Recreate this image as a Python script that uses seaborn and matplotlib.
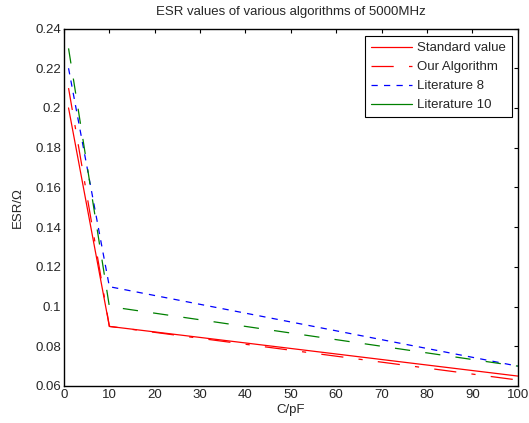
import matplotlib
matplotlib.use("Agg")
import matplotlib.pyplot as plt
from matplotlib.lines import Line2D
import seaborn as sns
import pandas as pd

# Capacitance points (pF) and ESR (ohm) of each method at 5000 MHz
capacitance = [1, 10, 100]
standard_value = [0.20, 0.09, 0.065]
our_algorithm = [0.21, 0.09, 0.063]
literature_8 = [0.22, 0.11, 0.070]
literature_10 = [0.23, 0.10, 0.070]

series_names = ["Standard value", "Our Algorithm", "Literature 8", "Literature 10"]
x_ticks = list(range(0, 101, 10))
y_ticks = [0.06, 0.08, 0.10, 0.12, 0.14, 0.16, 0.18, 0.20, 0.22, 0.24]

sns.set_theme(style="white")
plt.rcParams["font.family"] = ["Liberation Sans", "DejaVu Sans"]
plt.rcParams["lines.scale_dashes"] = False

df = pd.DataFrame({
    "C": capacitance * 4,
    "ESR": standard_value + our_algorithm + literature_8 + literature_10,
    "method": sum([[n] * len(capacitance) for n in series_names], []),
})

colors = {
    "Standard value": "#ff0000",
    "Our Algorithm": "#ff0000",
    "Literature 8": "#0000ff",
    "Literature 10": "#008000",
}
plot_styles = {
    "Standard value": "-",
    "Our Algorithm": (0, (16, 11, 3, 11)),
    "Literature 8": (0, (4.5, 4.5)),
    "Literature 10": (0, (11, 11)),
}
legend_styles = {
    "Standard value": "-",
    "Our Algorithm": (0, (16, 11, 3, 11)),
    "Literature 8": (0, (4.5, 4.5)),
    "Literature 10": "-",
}

FS = 9.5
TEXT = "#262626"

fig = plt.figure(figsize=(5.29, 4.23), dpi=100)
ax = fig.add_axes([0.121, 0.0875, 0.8577, 0.8451])

for name in series_names:
    sub = df[df["method"] == name]
    sns.lineplot(data=sub, x="C", y="ESR", ax=ax, color=colors[name],
                 linestyle=plot_styles[name], linewidth=0.9, legend=False)

ax.set_xlim(0, 100)
ax.set_ylim(0.06, 0.24)
ax.set_xticks(x_ticks)
ax.set_yticks(y_ticks)
ax.set_yticklabels([f"{v:g}" for v in y_ticks])
ax.tick_params(direction="in", length=3, width=0.8, labelsize=FS,
               top=True, right=True, color="black", labelcolor=TEXT, pad=2)
for s in ax.spines.values():
    s.set_color("black")
    s.set_linewidth(1.0)

ax.set_title("ESR values of various algorithms of 5000MHz", fontsize=FS,
             pad=9.5, color=TEXT)
ax.set_xlabel("C/pF", fontsize=FS, labelpad=2.5, color=TEXT)
ax.set_ylabel("ESR/\u03a9", fontsize=FS, labelpad=8, color=TEXT)

handles = [Line2D([0], [0], color=colors[n], linestyle=legend_styles[n], linewidth=0.9)
           for n in series_names]
leg = ax.legend(handles, series_names, loc="upper right",
                bbox_to_anchor=(0.9875, 0.979), borderaxespad=0,
                fontsize=FS, handlelength=3.1, handletextpad=0.38,
                labelspacing=0.52, borderpad=0.45, fancybox=False,
                framealpha=1, edgecolor="black", labelcolor=TEXT)
leg.get_frame().set_linewidth(0.8)

fig.savefig("out.png", dpi=100)
